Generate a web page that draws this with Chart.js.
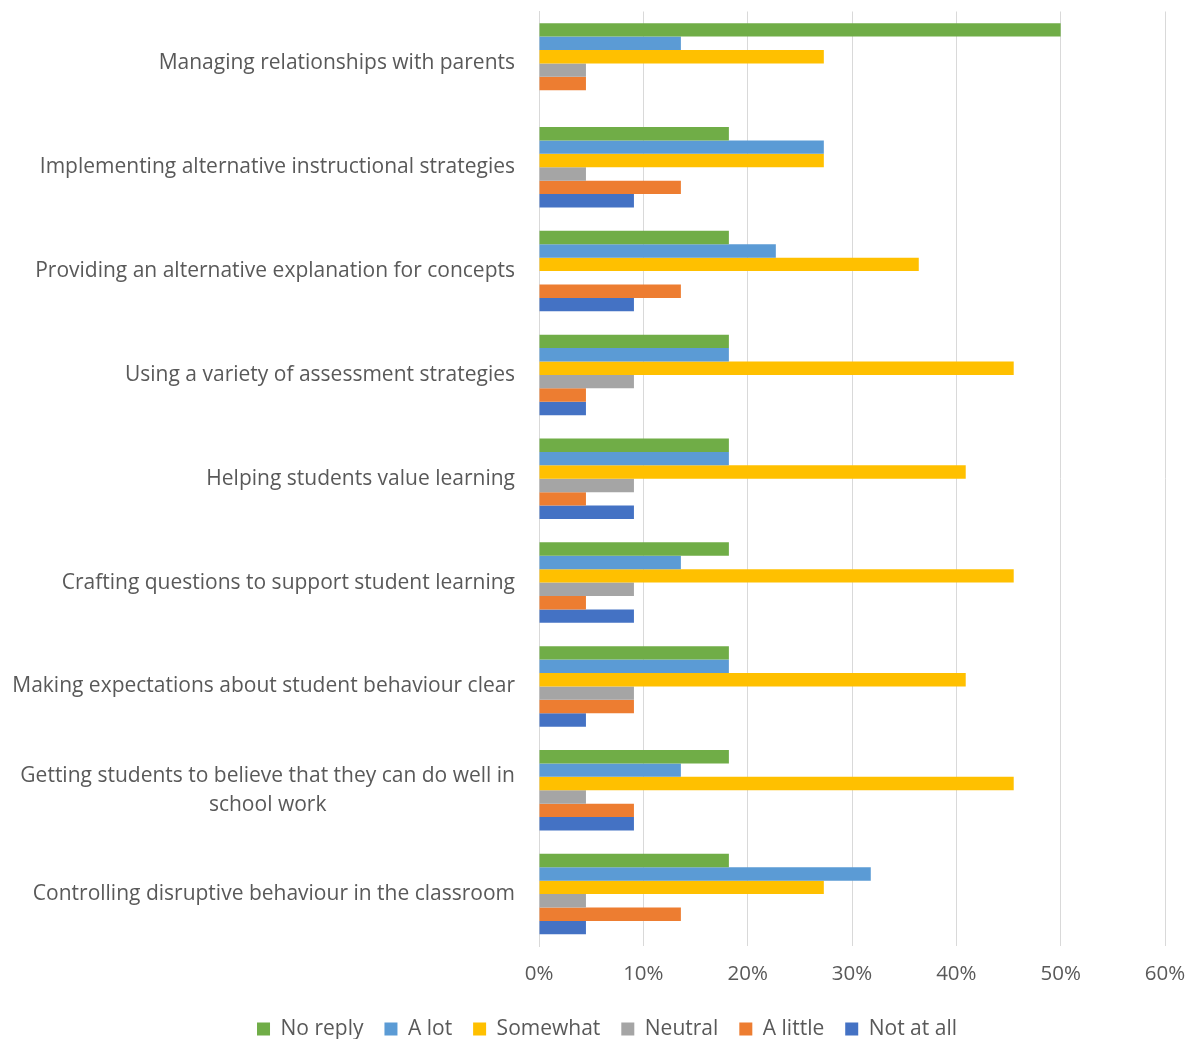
<!DOCTYPE html>
<html>
<head>
<meta charset="utf-8">
<script src="https://cdn.jsdelivr.net/npm/chart.js@4.4.1/dist/chart.umd.min.js"></script>
<style>
  html, body { margin: 0; padding: 0; background: #ffffff; }
  #wrap { width: 1196px; height: 1039px; position: relative; }
</style>
</head>
<body>
<div id="wrap"><canvas id="c"></canvas></div>
<script>
const categories = [
  'Managing relationships with parents',
  'Implementing alternative instructional strategies',
  'Providing an alternative explanation for concepts',
  'Using a variety of assessment strategies',
  'Helping students value learning',
  'Crafting questions to support student learning',
  'Making expectations about student behaviour clear',
  ['Getting students to believe that they can do well in', 'school work'],
  'Controlling disruptive behaviour in the classroom'
];
const seriesNames = ['No reply', 'A lot', 'Somewhat', 'Neutral', 'A little', 'Not at all'];
const noReply  = [50.0, 18.2, 18.2, 18.2, 18.2, 18.2, 18.2, 18.2, 18.2];
const aLot     = [13.6, 27.3, 22.7, 18.2, 18.2, 13.6, 18.2, 13.6, 31.8];
const somewhat = [27.3, 27.3, 36.4, 45.5, 40.9, 45.5, 40.9, 45.5, 27.3];
const neutral  = [4.5, 4.5, 0, 9.1, 9.1, 9.1, 9.1, 4.5, 4.5];
const aLittle  = [4.5, 13.6, 13.6, 4.5, 4.5, 4.5, 9.1, 9.1, 13.6];
const notAtAll = [0, 9.1, 9.1, 4.5, 9.1, 9.1, 4.5, 9.1, 4.5];
const xTickLabels = ['0%', '10%', '20%', '30%', '40%', '50%', '60%'];

const colors = ['#70AD47', '#5B9BD5', '#FFC000', '#A5A5A5', '#ED7D31', '#4472C4'];
const seriesValues = [noReply, aLot, somewhat, neutral, aLittle, notAtAll];

const FONT = { family: "'Open Sans', sans-serif", size: 21, lineHeight: 1.38 };
const TICKFONT = { family: "'Open Sans', sans-serif", size: 20.5 };
const TEXT = '#595959';

const centerMultiline = {
  id: 'centerMultiline',
  beforeDraw(chart) {
    const s = chart.scales.y;
    const items = s.getLabelItems(chart.chartArea);
    const ctx = chart.ctx;
    items.forEach(it => {
      if (Array.isArray(it.label) && !it._centered) {
        ctx.save();
        ctx.font = it.font.string;
        const w = Math.max(...it.label.map(l => ctx.measureText(l).width));
        ctx.restore();
        it.options.textAlign = 'center';
        it.options.translation = [it.options.translation[0] - w / 2, it.options.translation[1]];
        it._centered = true;
      }
    });
  }
};

const legendShift = {
  id: 'legendShift',
  afterLayout(chart) {
    if (chart.legend) {
      chart.legend.left += 9;
      chart.legend.right += 9;
    }
  }
};

new Chart(document.getElementById('c'), {
  type: 'bar',
  data: {
    labels: categories,
    datasets: seriesNames.map((name, i) => ({
      label: name,
      data: seriesValues[i],
      backgroundColor: colors[i],
      borderWidth: 0,
      categoryPercentage: 0.775,
      barPercentage: 1.0
    }))
  },
  plugins: [centerMultiline, legendShift],
  options: {
    indexAxis: 'y',
    responsive: true,
    maintainAspectRatio: false,
    animation: false,
    layout: { padding: { top: 11.5, left: 0, right: 0, bottom: -10.5 } },
    scales: {
      x: {
        min: 0,
        max: 60,
        ticks: {
          stepSize: 10,
          color: TEXT,
          font: TICKFONT,
          padding: 16,
          callback: (v, i) => xTickLabels[i]
        },
        grid: { color: '#D9D9D9', lineWidth: 1, drawTicks: false },
        border: { display: false },
        afterFit: (s) => { s.height = 51.5; s.paddingLeft = 0; s.paddingRight = 31; }
      },
      y: {
        ticks: { color: TEXT, font: FONT, padding: 24 },
        grid: { display: false, drawTicks: false },
        border: { display: true, color: '#D9D9D9', width: 1 },
        afterFit: (s) => { s.width = 539; s.paddingTop = 0; s.paddingBottom = 0; }
      }
    },
    plugins: {
      legend: {
        position: 'bottom',
        labels: {
          boxWidth: 13,
          boxHeight: 13,
          padding: 21,
          color: TEXT,
          font: FONT
        }
      },
      tooltip: { enabled: false }
    }
  }
});
</script>
</body>
</html>
